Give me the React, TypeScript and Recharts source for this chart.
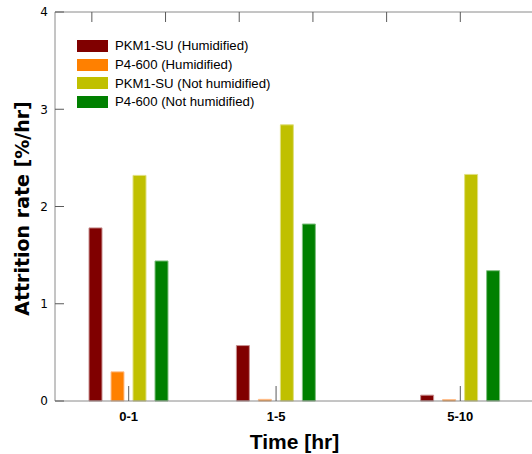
import React from "react";
import { BarChart, Bar, XAxis, YAxis, Legend } from "recharts";

// ---- data ----
const categories = ["0-1", "1-5", "5-10"];
const categoryAxisValues = [0.5, 2.5, 5];
const pkm1Humidified = [1.78, 0.57, 0.06];
const p4Humidified = [0.3, 0.017, 0.015];
const pkm1NotHumidified = [2.32, 2.84, 2.33];
const p4NotHumidified = [1.44, 1.82, 1.34];
const yTicks = [0, 1, 2, 3, 4];
const topTicks = [0, 1, 2, 3, 4, 5];

const seriesNames = [
  "PKM1-SU (Humidified)",
  "P4-600 (Humidified)",
  "PKM1-SU (Not humidified)",
  "P4-600 (Not humidified)",
];

const data = categories.map((c, i) => ({
  x: categoryAxisValues[i],
  label: c,
  s1: pkm1Humidified[i],
  s2: p4Humidified[i],
  s3: pkm1NotHumidified[i],
  s4: p4NotHumidified[i],
}));

const tickLabel = (v: number) => {
  const i = categoryAxisValues.indexOf(v);
  return i >= 0 ? categories[i] : "";
};
const noLabel = () => "";

const AXIS = "#8a8a8a";
const TICK = "#5a5a5a";

const YTitle = (props: any) => {
  const vb = props.viewBox || { x: 0, y: 12, width: 55, height: 389 };
  const cx = vb.x + 22;
  const cy = vb.y + vb.height / 2 + 2;
  return (
    <text
      x={cx}
      y={cy}
      transform={`rotate(-90 ${cx} ${cy})`}
      textAnchor="middle"
      dominantBaseline="central"
      fontFamily="DejaVu Sans"
      fontWeight="bold"
      fontSize={19}
      fill="#000"
    >
      Attrition rate [%/hr]
    </text>
  );
};

const XTitle = (props: any) => {
  const vb = props.viewBox || { x: 55, y: 401, width: 478, height: 53 };
  return (
    <text
      x={vb.x + vb.width / 2}
      y={vb.y + 48}
      textAnchor="middle"
      fontFamily="Liberation Sans"
      fontWeight="bold"
      fontSize={21}
      fill="#000"
    >
      Time [hr]
    </text>
  );
};

const LegendContent = (props: any) => {
  const payload = [...(props.payload || [])].sort(
    (a: any, b: any) => seriesNames.indexOf(a.value) - seriesNames.indexOf(b.value)
  );
  return (
    <div style={{ fontFamily: "Liberation Sans, Arial", fontSize: 13.2, color: "#000" }}>
      {payload.map((p: any, i: number) => (
        <div key={i} style={{ display: "flex", alignItems: "center", height: 18.67 }}>
          <span style={{ display: "inline-block", width: 31, height: 12, background: p.color }} />
          <span style={{ marginLeft: 7, whiteSpace: "nowrap" }}>{p.value}</span>
        </div>
      ))}
    </div>
  );
};

export default function App() {
  return (
    <div style={{ position: "absolute", left: 0, top: 0, width: 532, height: 454, overflow: "hidden", background: "#fff" }}>
      <BarChart
        width={535}
        height={454}
        data={data}
        margin={{ top: 11, right: 0, bottom: 0, left: 0 }}
        barSize={13}
        barGap={9}
      >
        <XAxis
          dataKey="x"
          type="number"
          domain={[-0.5, 6]}
          ticks={categoryAxisValues}
          tickFormatter={tickLabel}
          height={53}
          stroke={AXIS}
          tickLine={{ stroke: TICK }}
          tickSize={-15}
          tickMargin={26}
          tick={{ fill: "#000", fontFamily: "Liberation Sans", fontWeight: "bold", fontSize: 13 }}
          label={<XTitle />}
        />
        <XAxis
          xAxisId="top"
          dataKey="x"
          type="number"
          orientation="top"
          domain={[-0.5, 6]}
          ticks={topTicks}
          tickFormatter={noLabel}
          height={1}
          stroke={AXIS}
          tickLine={{ stroke: TICK }}
          tickSize={-10}
        />
        <YAxis
          domain={[0, 4]}
          ticks={yTicks}
          width={55}
          stroke={AXIS}
          tickLine={{ stroke: TICK }}
          tickSize={-9}
          tickMargin={16}
          tick={{ fill: "#000", fontFamily: "DejaVu Sans", fontSize: 12 }}
          label={<YTitle />}
        />
        <YAxis
          yAxisId="right"
          orientation="right"
          domain={[0, 4]}
          ticks={yTicks}
          tickFormatter={noLabel}
          width={1}
          stroke={AXIS}
          tickLine={{ stroke: TICK }}
          tickSize={-9}
        />
        <Legend
          layout="vertical"
          align="center"
          verticalAlign="middle"
          wrapperStyle={{ left: 77, top: 36.67, width: 220 }}
          content={<LegendContent />}
        />
        <Bar dataKey="s1" name={seriesNames[0]} fill="#800000" stroke="#c89090" strokeWidth={1} isAnimationActive={false} />
        <Bar dataKey="s2" name={seriesNames[1]} fill="#ff8000" stroke="#ffc090" strokeWidth={1} isAnimationActive={false} />
        <Bar dataKey="s3" name={seriesNames[2]} fill="#c0c000" stroke="#e0e080" strokeWidth={1} isAnimationActive={false} />
        <Bar dataKey="s4" name={seriesNames[3]} fill="#008000" stroke="#80c080" strokeWidth={1} isAnimationActive={false} />
      </BarChart>
    </div>
  );
}
